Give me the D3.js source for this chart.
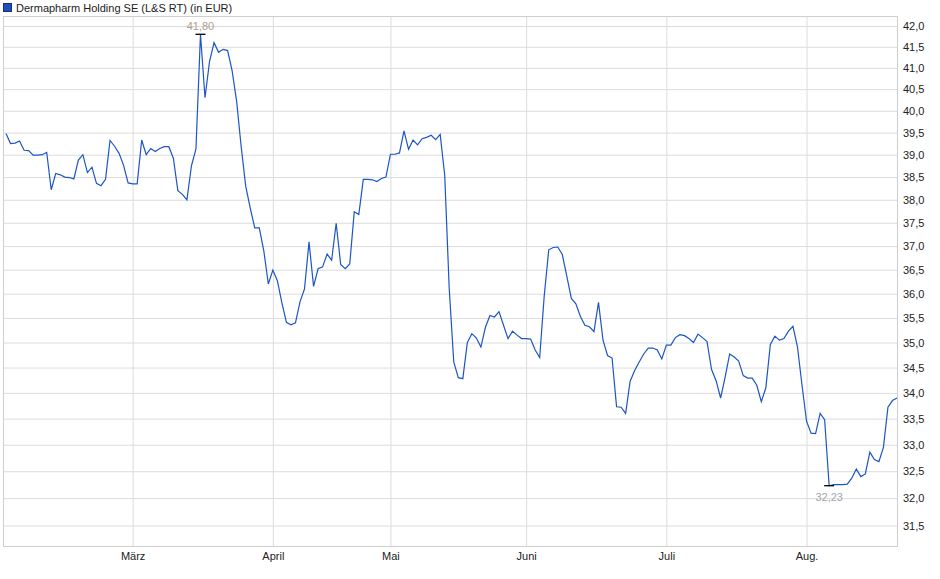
<!DOCTYPE html>
<html>
<head>
<meta charset="utf-8">
<script src="https://cdn.jsdelivr.net/npm/d3@7"></script>
<style>
  body { margin: 0; background: #fff; }
  svg { display: block; font-family: "Liberation Sans", Arial, sans-serif; }
</style>
</head>
<body>
<svg width="940" height="579"></svg>
<script>
const title = "Dermapharm Holding SE (L&S RT) (in EUR)";

// daily closes (one per trading day, Feb - Aug)
const prices = [
  39.48, 39.25, 39.26, 39.31, 39.10, 39.09, 38.99, 38.99, 39.00, 39.05,
  38.22, 38.58, 38.55, 38.50, 38.49, 38.46, 38.88, 39.00, 38.60, 38.72,
  38.36, 38.31, 38.45, 39.32, 39.19, 39.03, 38.76, 38.37, 38.35, 38.35,
  39.33, 39.00, 39.14, 39.07, 39.14, 39.18, 39.18, 38.92, 38.20, 38.12,
  38.00, 38.75, 39.13, 41.80, 40.30, 41.15, 41.60, 41.37, 41.44, 41.41,
  40.93, 40.21, 39.18, 38.30, 37.82, 37.39, 37.39, 36.90, 36.20, 36.49,
  36.27, 35.81, 35.41, 35.36, 35.40, 35.83, 36.10, 37.09, 36.15, 36.52,
  36.56, 36.83, 36.70, 37.49, 36.61, 36.52, 36.62, 37.74, 37.68, 38.45,
  38.45, 38.44, 38.40, 38.47, 38.50, 39.01, 39.01, 39.04, 39.54, 39.12,
  39.33, 39.22, 39.36, 39.39, 39.44, 39.34, 39.46, 38.54, 36.10, 34.61,
  34.30, 34.28, 35.00, 35.18, 35.09, 34.91, 35.31, 35.55, 35.52, 35.63,
  35.35, 35.08, 35.23, 35.15, 35.08, 35.08, 35.07, 34.85, 34.70, 35.95,
  36.92, 36.97, 36.98, 36.82, 36.36, 35.90, 35.79, 35.53, 35.35, 35.32,
  35.22, 35.82, 35.05, 34.74, 34.69, 33.73, 33.72, 33.60, 34.23, 34.44,
  34.61, 34.77, 34.89, 34.89, 34.85, 34.67, 34.95, 34.95, 35.10, 35.16,
  35.14, 35.08, 35.00, 35.17, 35.10, 35.02, 34.46, 34.24, 33.90, 34.31,
  34.77, 34.71, 34.63, 34.34, 34.29, 34.29, 34.15, 33.83, 34.10, 34.96,
  35.13, 35.05, 35.08, 35.23, 35.33, 34.91, 34.15, 33.45, 33.22, 33.21,
  33.60, 33.48, 32.23, 32.25, 32.25, 32.25, 32.26, 32.37, 32.54, 32.40,
  32.45, 32.86, 32.72, 32.68, 32.95, 33.72, 33.85, 33.90
];

const monthLabels = ["März", "April", "Mai", "Juni", "Juli", "Aug."];
const monthStarts = [28, 59, 85, 115, 146, 177]; // index of first day in month

const yTicks = [31.5, 32.0, 32.5, 33.0, 33.5, 34.0, 34.5, 35.0, 35.5, 36.0, 36.5,
                37.0, 37.5, 38.0, 38.5, 39.0, 39.5, 40.0, 40.5, 41.0, 41.5, 42.0];

const plotLeft = 3, plotRight = 898, plotTop = 16, plotBottom = 546;

const svg = d3.select("svg");
const fmt = (v, d) => v.toFixed(d).replace(".", ",");

const x = d3.scaleLinear().domain([0, prices.length - 1]).range([6, 897]);
const y = d3.scaleLog().domain([31.13, 42.243]).range([plotBottom, plotTop]);

// legend / title
svg.append("rect")
  .attr("x", 3.5).attr("y", 3.5).attr("width", 8).attr("height", 8)
  .attr("fill", "#1f4fb8").attr("stroke", "#1a2f6a");
svg.append("text")
  .attr("x", 16).attr("y", 11.5)
  .attr("font-size", 11).attr("fill", "#222")
  .text(title);

// horizontal grid + right axis
const yAxis = d3.axisRight(y)
  .tickValues(yTicks)
  .tickSize(-(plotRight - plotLeft))
  .tickPadding(5)
  .tickFormat(d => fmt(d, 1));

svg.append("g")
  .attr("transform", `translate(${plotRight},0)`)
  .call(yAxis)
  .call(g => g.select(".domain").remove())
  .call(g => g.selectAll("line").attr("stroke", "#dcdcdc"))
  .call(g => g.selectAll("text")
    .attr("font-size", 11).attr("fill", "#222")
    .attr("font-family", "Liberation Sans, Arial, sans-serif"));

// vertical grid + month axis
const xAxis = d3.axisBottom(x)
  .tickValues(monthStarts)
  .tickSize(-(plotBottom - plotTop))
  .tickPadding(6)
  .tickFormat((d, i) => monthLabels[i]);

svg.append("g")
  .attr("transform", `translate(0,${plotBottom})`)
  .call(xAxis)
  .call(g => g.select(".domain").remove())
  .call(g => g.selectAll("line").attr("stroke", "#dcdcdc"))
  .call(g => g.selectAll("text")
    .attr("font-size", 11).attr("fill", "#222")
    .attr("font-family", "Liberation Sans, Arial, sans-serif"));

// plot frame
svg.append("rect")
  .attr("x", plotLeft + 0.5).attr("y", plotTop + 0.5)
  .attr("width", plotRight - plotLeft - 1).attr("height", plotBottom - plotTop)
  .attr("fill", "none").attr("stroke", "#cfcfcf");

// price line
const line = d3.line()
  .x((d, i) => x(i))
  .y(d => y(d));

svg.append("path")
  .datum(prices)
  .attr("fill", "none")
  .attr("stroke", "#1c55c6")
  .attr("stroke-width", 1.2)
  .attr("d", line);

// high / low markers
const hi = d3.maxIndex(prices);
const lo = d3.minIndex(prices);

svg.append("line")
  .attr("x1", x(hi) - 5).attr("x2", x(hi) + 5)
  .attr("y1", y(prices[hi])).attr("y2", y(prices[hi]))
  .attr("stroke", "#000").attr("stroke-width", 1.3);
svg.append("text")
  .attr("x", x(hi)).attr("y", y(prices[hi]) - 4)
  .attr("text-anchor", "middle").attr("font-size", 11)
  .attr("fill", "#b09c8a")
  .text(fmt(prices[hi], 2));

svg.append("line")
  .attr("x1", x(lo) - 5).attr("x2", x(lo) + 5)
  .attr("y1", y(prices[lo])).attr("y2", y(prices[lo]))
  .attr("stroke", "#000").attr("stroke-width", 1.3);
svg.append("text")
  .attr("x", x(lo)).attr("y", y(prices[lo]) + 15)
  .attr("text-anchor", "middle").attr("font-size", 11)
  .attr("fill", "#a2a6ae")
  .text(fmt(prices[lo], 2));
</script>
</body>
</html>
